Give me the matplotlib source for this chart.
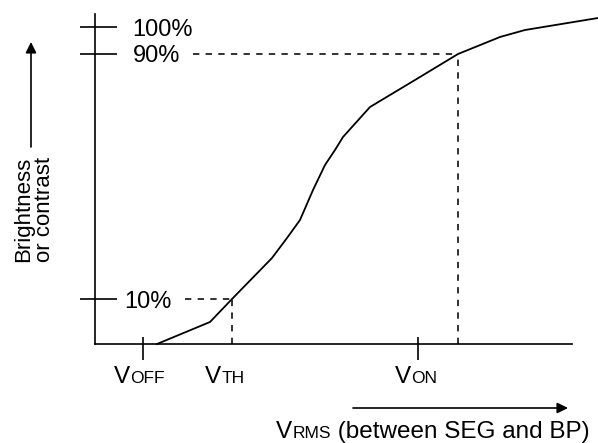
import matplotlib.pyplot as plt
from matplotlib.offsetbox import TextArea, HPacker, AnnotationBbox

plt.rcParams["font.family"] = ["Liberation Sans", "DejaVu Sans"]

# drawing units: origin at the axes corner, x to the right, y upward
curve_x = [62, 115, 137, 177, 192, 205, 218, 230, 240, 248, 275, 320, 363, 405, 430, 503]
curve_y = [0, 22, 45, 86, 106, 124, 154, 179, 194, 207, 237, 264, 290, 307, 314, 326]

level_names = ["10%", "90%", "100%"]
level_y = [45, 290, 317]
level_label_x = [29, 38, 37]

volt_main = ["V", "V", "V"]
volt_sub = ["OFF", "TH", "ON"]
volt_x = [48, 137, 323]
volt_label_x = [44, 130, 321]
volt_has_tick = [True, False, True]

v_th = 137
v_90 = 363

fig = plt.figure(figsize=(5.98, 4.43), dpi=100)
ax = fig.add_axes([95 / 598, 99 / 443, 503 / 598, 344 / 443])
ax.set_xlim(0, 503)
ax.set_ylim(0, 344)
ax.set_xticks([])
ax.set_yticks([])
for s in ["top", "right"]:
    ax.spines[s].set_visible(False)
ax.spines["left"].set_bounds(0, 330)
ax.spines["bottom"].set_bounds(0, 477)
for s in ["left", "bottom"]:
    ax.spines[s].set_linewidth(1.2)

# response curve
ax.plot(curve_x, curve_y, color="black", lw=1.3, clip_on=False, solid_joinstyle="round")

# y marks
ax.hlines(level_y, -15, 22, color="black", lw=1.2, clip_on=False)
for name, y, lx in zip(level_names, level_y, level_label_x):
    ax.text(lx, y, name, fontsize=17, ha="left", va="center_baseline", clip_on=False)

# dashed guides
dash = dict(color="#222222", lw=1.3, linestyle=(0, (3.5, 3.5)), clip_on=False)
ax.plot([90, v_th], [level_y[0], level_y[0]], **dash)
ax.plot([v_th, v_th], [0, level_y[0]], **dash)
ax.plot([98, v_90], [level_y[1], level_y[1]], **dash)
ax.plot([v_90, v_90], [0, level_y[1]], **dash)


def small_caps(main, sub, rest=""):
    parts = [TextArea(main, textprops=dict(fontsize=17.5)),
             TextArea(sub, textprops=dict(fontsize=12.5))]
    if rest:
        parts.append(TextArea(rest, textprops=dict(fontsize=17.5)))
    return HPacker(children=parts, align="baseline", pad=0, sep=0)


# x marks
for m, sub, x, lx, tick in zip(volt_main, volt_sub, volt_x, volt_label_x, volt_has_tick):
    if tick:
        ax.vlines(x, -16, 7, color="black", lw=1.2, clip_on=False)
    ab = AnnotationBbox(small_caps(m, sub), (lx, -44), xycoords="data",
                        box_alignment=(0.5, 0), frameon=False, pad=0,
                        annotation_clip=False)
    ax.add_artist(ab)

# axis titles with arrows
ax.annotate("", xy=(-64, 302), xytext=(-64, 197), xycoords="data",
            arrowprops=dict(arrowstyle="-|>", color="black", lw=1.2,
                            mutation_scale=16, shrinkA=0, shrinkB=0),
            annotation_clip=False)
ax.text(-61, 187, "Brightness\nor contrast", rotation=90, fontsize=16,
        ha="center", va="top", multialignment="right", linespacing=1.0,
        clip_on=False)

ax.annotate("", xy=(473, -64), xytext=(258, -64), xycoords="data",
            arrowprops=dict(arrowstyle="-|>", color="black", lw=1.2,
                            mutation_scale=16, shrinkA=0, shrinkB=0),
            annotation_clip=False)
ab = AnnotationBbox(small_caps("V", "RMS", " (between SEG and BP)"), (181, -99),
                    xycoords="data", box_alignment=(0, 0), frameon=False, pad=0,
                    annotation_clip=False)
ax.add_artist(ab)

fig.savefig("out.png", dpi=100)
